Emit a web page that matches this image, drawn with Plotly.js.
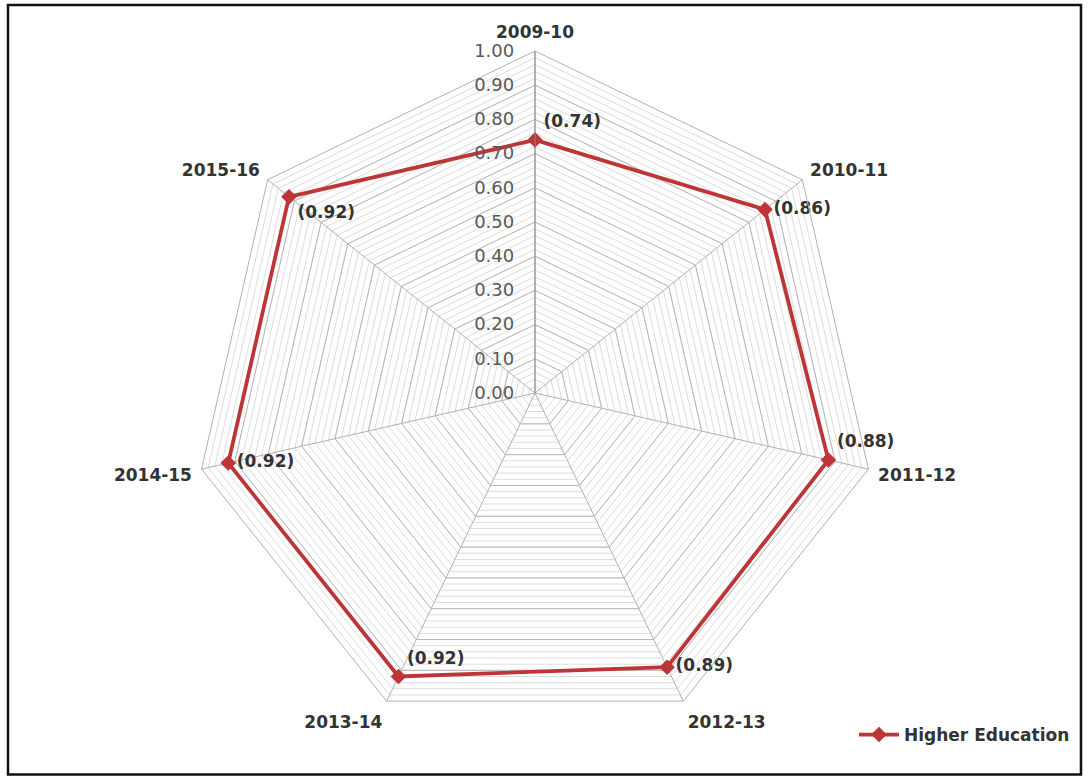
<!DOCTYPE html>
<html>
<head>
<meta charset="utf-8">
<script src="https://cdn.plot.ly/plotly-3.0.1.min.js"></script>
<style>html,body{margin:0;padding:0;background:#fff;}#chart{width:1088px;height:776px;}</style>
</head>
<body>
<div id="chart"></div>
<script>
const categories = ["2009-10", "2010-11", "2011-12", "2012-13", "2013-14", "2014-15", "2015-16"];
const values = [0.74, 0.86, 0.88, 0.89, 0.92, 0.92, 0.92];
const labels = ["(0.74)", "(0.86)", "(0.88)", "(0.89)", "(0.92)", "(0.92)", "(0.92)"];
const labelPositions = ["top right", "middle right", "top right", "middle right", "top right", "middle right", "bottom right"];
const radialTickVals = [0, 0.1, 0.2, 0.3, 0.4, 0.5, 0.6, 0.7, 0.8, 0.9, 1.0];
const radialTickText = ["0.00", "0.10", "0.20", "0.30", "0.40", "0.50", "0.60", "0.70", "0.80", "0.90", "1.00"];
const seriesName = "Higher Education";

const FONT = "DejaVu Sans, Arial, sans-serif";
const RED = "#BE3537";

const cx = 535, cy = 393, R = 342, W = 1088, H = 776;
const domain = {
  x: [(cx - R) / W, (cx + R) / W],
  y: [(H - cy - R) / H, (H - cy + R) / H]
};

const traces = [
  {
    type: "scatterpolar", subplot: "polar",
    r: values, theta: categories, mode: "lines",
    line: {color: "rgba(0,0,0,0)"}, showlegend: false, hoverinfo: "skip"
  },
  {
    type: "scatterpolar", subplot: "polar2",
    r: [values[values.length - 1], values[0]],
    theta: [categories[categories.length - 1], categories[0]],
    mode: "lines",
    line: {color: RED, width: 3.8}, showlegend: false, hoverinfo: "skip"
  },
  {
    type: "scatterpolar", subplot: "polar2",
    name: seriesName,
    r: values, theta: categories,
    mode: "lines+markers+text",
    line: {color: RED, width: 3.8},
    marker: {symbol: "diamond", size: 12, color: RED},
    text: labels, textposition: labelPositions,
    textfont: {family: FONT, size: 17, color: "#333333", weight: "bold"},
    cliponaxis: false
  }
];

const angBase = {
  type: "category", categoryarray: categories, categoryorder: "array",
  direction: "clockwise", rotation: 90
};

const layout = {
  width: W, height: H,
  margin: {l: 0, r: 0, t: 0, b: 0},
  paper_bgcolor: "#ffffff",
  font: {family: FONT, color: "#333333"},
  showlegend: true,
  legend: {
    x: 1075 / W, y: (H - 735) / H, xanchor: "right", yanchor: "middle",
    font: {family: FONT, size: 17, color: "#333333", weight: "bold"},
    bgcolor: "rgba(0,0,0,0)", itemwidth: 40
  },
  polar: {
    domain: domain, gridshape: "linear", bgcolor: "#ffffff",
    radialaxis: {
      range: [0, 1], dtick: 0.02, showticklabels: false, ticks: "",
      gridcolor: "#dcdcdc", gridwidth: 1, showline: false, angle: 90
    },
    angularaxis: Object.assign({}, angBase, {
      showticklabels: false, ticks: "", showgrid: false, showline: false
    })
  },
  polar2: {
    domain: domain, gridshape: "linear", bgcolor: "rgba(0,0,0,0)",
    radialaxis: {
      range: [0, 1], tickvals: radialTickVals, ticktext: radialTickText,
      angle: 90, tickangle: 90, side: "counterclockwise",
      ticks: "outside", ticklen: 14, tickcolor: "rgba(0,0,0,0)",
      showline: true, linecolor: "#8c8c8c", linewidth: 1,
      gridcolor: "#b8b8b8", gridwidth: 1,
      tickfont: {family: FONT, size: 18, color: "#595959"}
    },
    angularaxis: Object.assign({}, angBase, {
      showline: true, linecolor: "#b0b0b0", linewidth: 1,
      gridcolor: "#b0b0b0", gridwidth: 1,
      ticks: "outside", ticklen: 6, tickcolor: "rgba(0,0,0,0)",
      tickfont: {family: FONT, size: 17, color: "#333333", weight: "bold"}
    })
  },
  shapes: [
    {type: "rect", xref: "paper", yref: "paper",
     x0: 8 / W, x1: 1081 / W, y0: 1.5 / H, y1: 1 - 5 / H,
     line: {color: "#111111", width: 2.5}, fillcolor: "rgba(0,0,0,0)", layer: "above"}
  ]
};

Plotly.newPlot("chart", traces, layout, {displayModeBar: false, staticPlot: true});
</script>
</body>
</html>
